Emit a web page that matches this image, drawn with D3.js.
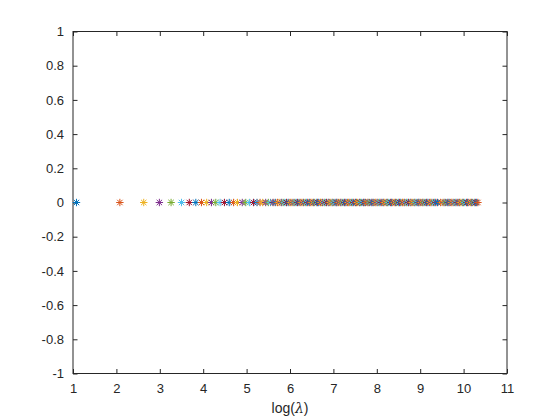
<!DOCTYPE html>
<html>
<head>
  <meta charset="utf-8">
  <title>log(lambda) spectrum</title>
  <script src="https://d3js.org/d3.v7.min.js"></script>
  <style>
    html, body {
      margin: 0;
      background: #fff;
    }
    svg {
      display: block;
    }
    .tick text {
      font-family: "Liberation Sans", Arial, sans-serif;
      font-size: 13px;
      fill: #262626;
    }
  </style>
</head>
<body>
  <svg id="chart" width="560" height="420"></svg>
  <script>
  // log(lambda) values (isolated ones first, then the dense band)
  const sparseLog = [1.08, 2.08, 2.63, 2.99, 3.26, 3.50, 3.68, 3.83, 3.96, 4.08, 4.19, 4.29,
    4.39, 4.49, 4.60, 4.70, 4.79, 4.90, 4.98, 5.07, 5.16];
  const bandLog = [5.24, 5.31, 5.37, 5.44, 5.50, 5.55, 5.61, 5.66, 5.71, 5.75, 5.80, 5.84,
    5.88, 5.92, 5.96, 6.00, 6.03, 6.07, 6.11, 6.14, 6.17, 6.21, 6.25, 6.28, 6.31, 6.35,
    6.38, 6.41, 6.45, 6.48, 6.51, 6.54, 6.57, 6.61, 6.63, 6.66, 6.70, 6.72, 6.75, 6.79,
    6.81, 6.84, 6.88, 6.90, 6.93, 6.97, 6.99, 7.02, 7.06, 7.08, 7.11, 7.15, 7.17, 7.20,
    7.24, 7.26, 7.29, 7.33, 7.35, 7.38, 7.42, 7.44, 7.47, 7.51, 7.53, 7.56, 7.60, 7.62,
    7.65, 7.69, 7.71, 7.74, 7.78, 7.80, 7.83, 7.87, 7.89, 7.92, 7.96, 7.98, 8.01, 8.05,
    8.07, 8.10, 8.14, 8.16, 8.19, 8.23, 8.25, 8.28, 8.32, 8.34, 8.37, 8.41, 8.43, 8.46,
    8.50, 8.52, 8.55, 8.59, 8.61, 8.64, 8.68, 8.70, 8.73, 8.77, 8.79, 8.82, 8.86, 8.88,
    8.91, 8.95, 8.97, 9.00, 9.04, 9.06, 9.09, 9.13, 9.15, 9.18, 9.22, 9.24, 9.27, 9.31,
    9.33, 9.36, 9.40, 9.47, 9.52, 9.55, 9.58, 9.62, 9.64, 9.67, 9.71, 9.73, 9.76, 9.80,
    9.82, 9.85, 9.89, 9.91, 9.94, 9.98, 10.00, 10.03, 10.07, 10.09, 10.12, 10.16, 10.18,
    10.21, 10.25, 10.27, 10.30, 10.33];
  const xTicks = [1, 2, 3, 4, 5, 6, 7, 8, 9, 10, 11];
  const yTicks = [-1, -0.8, -0.6, -0.4, -0.2, 0, 0.2, 0.4, 0.6, 0.8, 1];
  const colorOrder = ["#0072BD", "#D95319", "#EDB120", "#7E2F8E", "#77AC30", "#4DBEEE", "#A2142F"];

  const svg = d3.select("#chart");
  const plotLeft = 73, plotRight = 507, plotTop = 31.5, plotBottom = 373.5;
  const axisColor = "#262626";

  const x = d3.scaleLinear().domain([1, 11]).range([plotLeft, plotRight]);
  const y = d3.scaleLinear().domain([-1, 1]).range([plotBottom, plotTop]);

  const points = sparseLog.concat(bandLog).map((v, i) => ({ v: v, y: 0, i: i }));

  // axes, ticks pointing inward like MATLAB
  const tickLen = 4.5;
  const styleAxis = g => {
    g.select(".domain").remove();
    g.selectAll(".tick line").attr("stroke", axisColor).attr("stroke-width", 1);
  };

  svg.append("g")
    .attr("transform", `translate(0,${plotBottom})`)
    .call(d3.axisBottom(x).tickValues(xTicks).tickFormat(d => String(d))
      .tickSizeInner(-tickLen).tickSizeOuter(0).tickPadding(10))
    .call(styleAxis);

  svg.append("g")
    .attr("transform", `translate(0,${plotTop})`)
    .call(d3.axisTop(x).tickValues(xTicks).tickFormat("").tickSizeInner(-tickLen).tickSizeOuter(0))
    .call(styleAxis);

  // plain hyphen for negatives, as in the original
  svg.append("g")
    .attr("transform", `translate(${plotLeft},0)`)
    .call(d3.axisLeft(y).tickValues(yTicks).tickFormat(d => String(+d.toFixed(1)))
      .tickSizeInner(-tickLen).tickSizeOuter(0).tickPadding(9))
    .call(styleAxis);

  svg.append("g")
    .attr("transform", `translate(${plotRight},0)`)
    .call(d3.axisRight(y).tickValues(yTicks).tickFormat("").tickSizeInner(-tickLen).tickSizeOuter(0))
    .call(styleAxis);

  // box
  svg.append("rect")
    .attr("x", plotLeft).attr("y", plotTop)
    .attr("width", plotRight - plotLeft).attr("height", plotBottom - plotTop)
    .attr("fill", "none").attr("stroke", axisColor).attr("stroke-width", 1);

  // asterisk markers, one per value, colours cycling
  const r = 3.7, rd = 2.7;
  const star = `M${-r},0H${r}M0,${-r}V${r}M${-rd},${-rd}L${rd},${rd}M${-rd},${rd}L${rd},${-rd}`;

  svg.append("g")
    .selectAll("path")
    .data(points)
    .join("path")
    .attr("transform", d => `translate(${x(d.v)},${y(d.y)})`)
    .attr("d", star)
    .attr("fill", "none")
    .attr("stroke", d => colorOrder[d.i % colorOrder.length])
    .attr("stroke-width", 1);

  // x label
  const xl = svg.append("text")
    .attr("x", (plotLeft + plotRight) / 2)
    .attr("y", 413)
    .attr("text-anchor", "middle")
    .attr("font-family", "'Liberation Sans', Arial, sans-serif")
    .attr("font-size", 14)
    .attr("fill", axisColor);
  xl.append("tspan").text("log(");
  xl.append("tspan").attr("font-family", "'DejaVu Serif', serif").attr("font-style", "italic").text("λ");
  xl.append("tspan").text(")");
  </script>
</body>
</html>
